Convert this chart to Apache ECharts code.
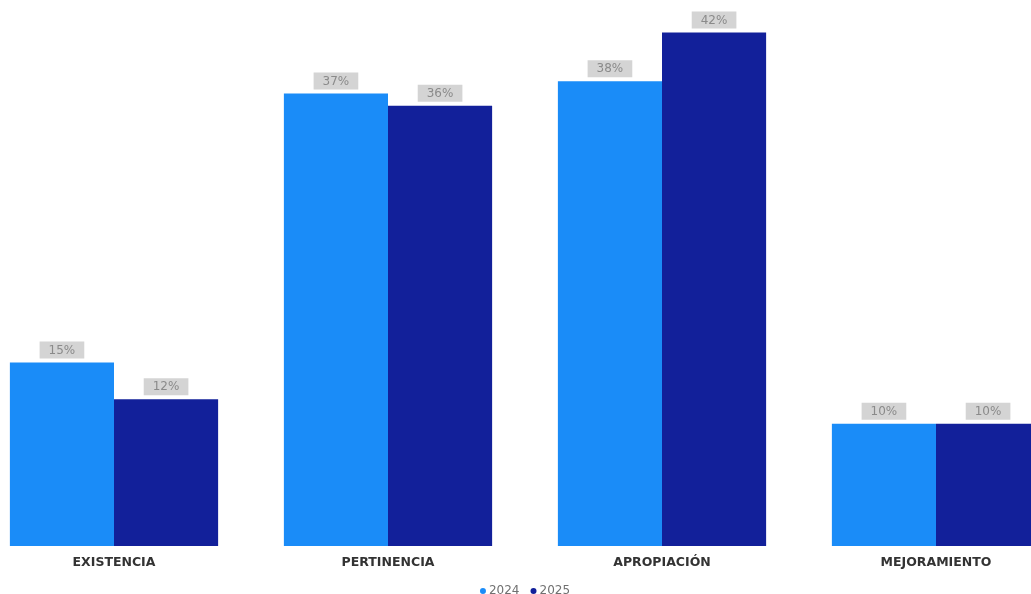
<!DOCTYPE html>
<html>
<head>
<meta charset="utf-8">
<script src="https://cdn.jsdelivr.net/npm/echarts@6/dist/echarts.min.js"></script>
<style>
  html, body { margin: 0; padding: 0; background: #ffffff; overflow: hidden; width: 1031px; height: 594px; }
  /* the plot runs past both window edges, so the canvas is wider than the view */
  #chart { width: 1096px; height: 594px; margin-left: -23px; }
</style>
</head>
<body>
<div id="chart"></div>
<script>
// Category names along the x axis
const categories = ['EXISTENCIA', 'PERTINENCIA', 'APROPIACIÓN', 'MEJORAMIENTO'];
// Percentages per year
const values2024 = [15, 37, 38, 10];
const values2025 = [12, 36, 42, 10];
const seriesNames = ['2024', '2025'];

const colors = ['#1a8cf8', '#12209a'];
const font = '"DejaVu Sans", sans-serif';

const labelStyle = {
  show: true,
  position: 'top',
  distance: 4,
  formatter: p => p.value + '%',
  color: '#8a8a8a',
  fontFamily: font,
  fontSize: 12,
  backgroundColor: '#d4d4d4',
  padding: [3, 9, 2, 9]
};

const chart = echarts.init(document.getElementById('chart'), null, { renderer: 'canvas' });
chart.setOption({
  animation: false,
  color: colors,
  grid: { left: 0, right: 0, top: 8, bottom: 48, containLabel: false },
  legend: {
    data: seriesNames,
    top: 580,
    left: 'center',
    icon: 'circle',
    itemWidth: 6,
    itemHeight: 6,
    itemGap: 11,
    textStyle: { color: '#707070', fontFamily: font, fontSize: 12, padding: [0, 0, 0, -2] }
  },
  xAxis: {
    type: 'category',
    data: categories,
    axisLine: { show: false },
    axisTick: { show: false },
    axisLabel: {
      color: '#333333',
      fontFamily: font,
      fontSize: 12.5,
      fontWeight: 'bold',
      margin: 10
    }
  },
  yAxis: {
    type: 'value',
    min: 0,
    max: 44,
    show: false,
    splitLine: { show: false }
  },
  series: [
    {
      name: seriesNames[0],
      type: 'bar',
      data: values2024,
      barGap: '0%',
      barCategoryGap: '24%',
      label: labelStyle
    },
    {
      name: seriesNames[1],
      type: 'bar',
      data: values2025,
      barGap: '0%',
      barCategoryGap: '24%',
      label: labelStyle
    }
  ]
});
</script>
</body>
</html>
